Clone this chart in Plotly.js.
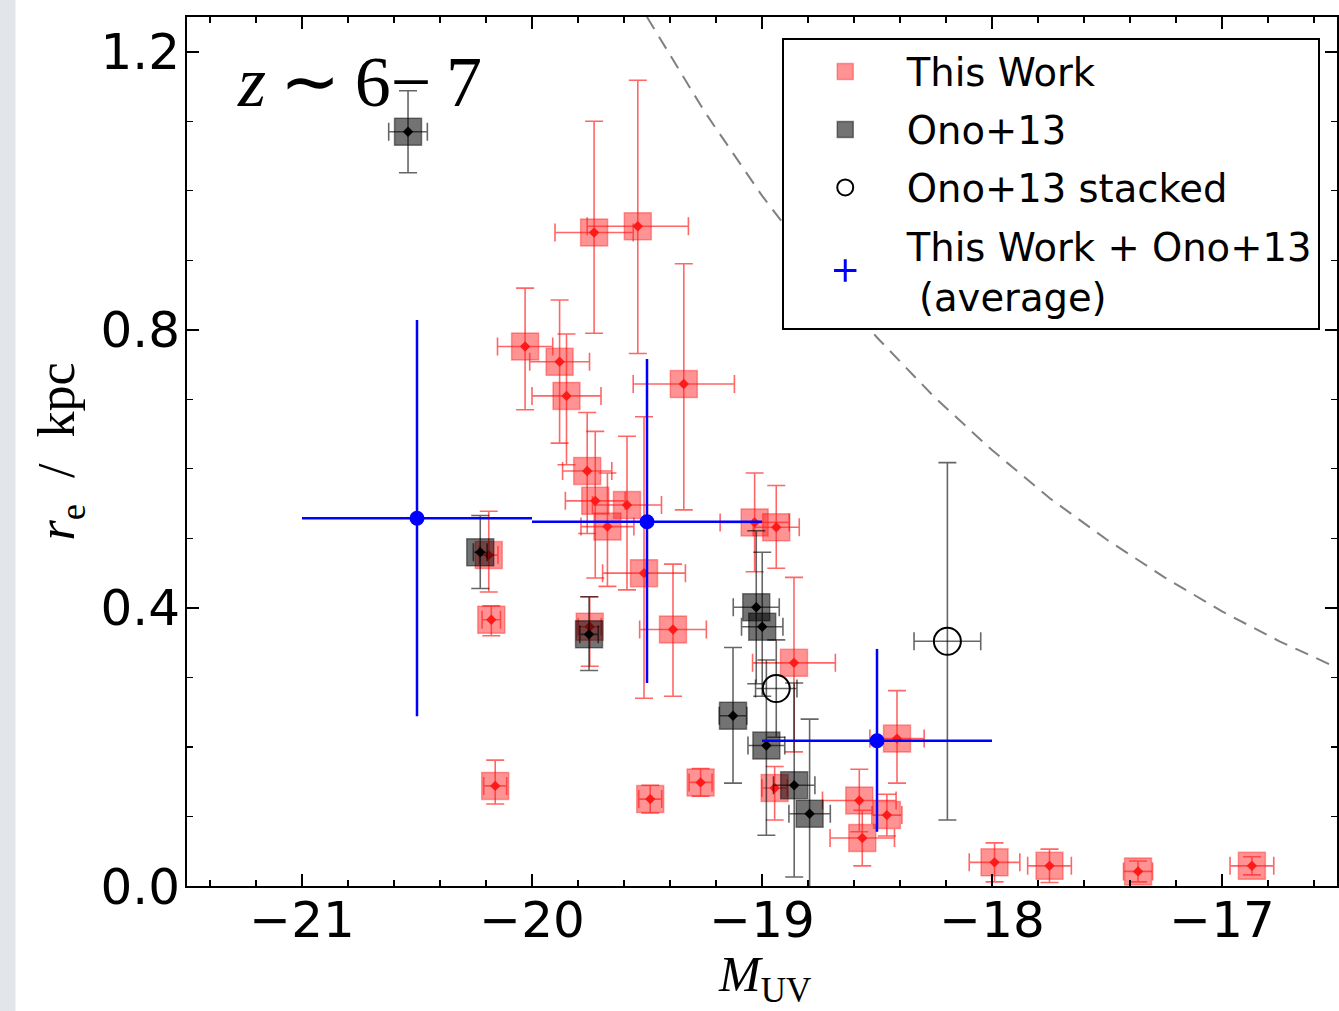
<!DOCTYPE html>
<html>
<head>
<meta charset="utf-8">
<script src="https://cdn.plot.ly/plotly-3.0.1.min.js"></script>
<style>
  html, body { margin: 0; padding: 0; }
  body { width: 1339px; height: 1011px; background: linear-gradient(to right, #e2e5e9 0px, #e2e5e9 15px, #ffffff 16px); }
  #chart { width: 1339px; height: 1011px; }
</style>
</head>
<body>
<div id="chart"></div>
<script>
// ---- This Work (red squares) ----
const workM      = [-19.73, -19.54, -20.03, -19.88, -19.85, -19.34, -19.76, -19.725, -19.587, -19.672, -19.032, -18.938, -19.513, -20.188, -20.177, -19.749, -19.387, -18.861, -18.413, -20.160, -19.486, -19.267, -18.945, -18.577, -18.457, -18.564, -17.989, -17.750, -17.365, -16.870];
const workRe     = [0.940, 0.949, 0.776, 0.754, 0.705, 0.722, 0.597, 0.554, 0.548, 0.517, 0.523, 0.516, 0.450, 0.476, 0.383, 0.373, 0.369, 0.321, 0.212, 0.144, 0.125, 0.149, 0.141, 0.123, 0.102, 0.069, 0.034, 0.029, 0.021, 0.029];
const workMErr   = [0.17, 0.22, 0.12, 0.13, 0.15, 0.22, 0.107, 0.13, 0.15, 0.115, 0.15, 0.10, 0.18, 0.04, 0.04, 0.05, 0.145, 0.18, 0.118, 0.05, 0.05, 0.05, 0.055, 0.16, 0.065, 0.14, 0.11, 0.095, 0.063, 0.095];
const workReUp   = [0.160, 0.210, 0.084, 0.089, 0.089, 0.173, 0.084, 0.100, 0.099, 0.077, 0.071, 0.060, 0.225, 0.063, 0.020, 0.043, 0.094, 0.123, 0.069, 0.037, 0.020, 0.020, 0.031, 0.045, 0.030, 0.040, 0.028, 0.024, 0.015, 0.013];
const workReDown = [0.145, 0.183, 0.091, 0.117, 0.099, 0.181, 0.090, 0.111, 0.122, 0.086, 0.071, 0.059, 0.180, 0.053, 0.023, 0.057, 0.096, 0.128, 0.064, 0.026, 0.020, 0.020, 0.046, 0.045, 0.030, 0.040, 0.028, 0.024, 0.015, 0.013];

// ---- Ono+13 (grey squares) ----
const onoM      = [-20.539, -20.225, -19.752, -19.025, -18.999, -19.126, -18.981, -18.860, -18.793];
const onoRe     = [1.085, 0.480, 0.362, 0.401, 0.373, 0.245, 0.202, 0.145, 0.104];
const onoMErr   = [0.084, 0.03, 0.04, 0.10, 0.09, 0.06, 0.08, 0.09, 0.09];
const onoReUp   = [0.059, 0.053, 0.054, 0.110, 0.107, 0.098, 0.123, 0.147, 0.136];
const onoReDown = [0.059, 0.052, 0.052, 0.110, 0.100, 0.097, 0.129, 0.132, 0.140];

// ---- Ono+13 stacked (open circles) ----
const stackM    = [-18.938, -18.194];
const stackRe   = [0.284, 0.352];
const stackMErr = [0.09, 0.145];
const stackReErr = [0.07, 0.257];

// ---- This Work + Ono+13 (average) ----
const avgM      = [-20.50, -19.50, -18.50];
const avgRe     = [0.529, 0.524, 0.209];
const avgMErr   = [0.5, 0.5, 0.5];
const avgReUp   = [0.285, 0.234, 0.132];
const avgReDown = [0.285, 0.232, 0.131];

// ---- dashed limit curve ----
const limitM  = [-19.5, -19.25, -19.0, -18.75, -18.5, -18.25, -18.0, -17.75, -17.5, -17.25, -17.0, -16.75, -16.5];
const limitRe = [1.25, 1.114, 0.993, 0.885, 0.789, 0.703, 0.627, 0.558, 0.498, 0.444, 0.395, 0.352, 0.314];

// ---- labels ----
const legendNames = ['This Work', 'Ono+13', 'Ono+13 stacked', 'This Work + Ono+13<br> (average)'];
const xTicks = [-21, -20, -19, -18, -17];
const yTicks = [0.0, 0.4, 0.8, 1.2];
const xTitle = '<i>M</i><sub>UV</sub>';
const yTitle = '<i>r</i><sub>e</sub>  /  kpc';
const panelLabel = '<i>z</i>\u2009\u223C\u20096\u2212\u20097';

const redErr = 'rgba(255,0,0,0.6)';
const blkErr = 'rgba(0,0,0,0.6)';

const traces = [
  { // dashed curve
    x: limitM, y: limitRe, mode: 'lines', showlegend: false, hoverinfo: 'skip',
    line: { color: '#808080', width: 2, dash: '14px,9px' }
  },
  { // red squares
    x: workM, y: workRe, mode: 'markers', name: legendNames[0], legendgroup: 'g1',
    marker: { symbol: 'square', size: 27, color: 'rgba(255,40,40,0.5)', line: { color: 'rgba(255,0,0,0.35)', width: 1.5 } },
    error_x: { type: 'data', array: workMErr, color: redErr, thickness: 1.6, width: 9 },
    error_y: { type: 'data', symmetric: false, array: workReUp, arrayminus: workReDown, color: redErr, thickness: 1.6, width: 9 }
  },
  { // red centers
    x: workM, y: workRe, mode: 'markers', showlegend: false, hoverinfo: 'skip',
    marker: { symbol: 'diamond', size: 8, color: '#ff1a1a' }
  },
  { // grey squares
    x: onoM, y: onoRe, mode: 'markers', name: legendNames[1], legendgroup: 'g2',
    marker: { symbol: 'square', size: 27, color: 'rgba(0,0,0,0.55)', line: { color: 'rgba(0,0,0,0.45)', width: 1.5 } },
    error_x: { type: 'data', array: onoMErr, color: blkErr, thickness: 1.6, width: 9 },
    error_y: { type: 'data', symmetric: false, array: onoReUp, arrayminus: onoReDown, color: blkErr, thickness: 1.6, width: 9 }
  },
  { // grey centers
    x: onoM, y: onoRe, mode: 'markers', showlegend: false, hoverinfo: 'skip',
    marker: { symbol: 'diamond', size: 8, color: '#000000' }
  },
  { // stacked circles
    x: stackM, y: stackRe, mode: 'markers', name: legendNames[2], legendgroup: 'g3',
    marker: { symbol: 'circle-open', size: 27, color: '#000000', line: { color: '#000000', width: 2 } },
    error_x: { type: 'data', array: stackMErr, color: blkErr, thickness: 1.6, width: 9 },
    error_y: { type: 'data', array: stackReErr, color: blkErr, thickness: 1.6, width: 9 }
  },
  { // average
    x: avgM, y: avgRe, mode: 'markers', showlegend: false,
    marker: { symbol: 'circle', size: 15, color: '#0000ff' },
    error_x: { type: 'data', array: avgMErr, color: '#0000ff', thickness: 2.5, width: 0 },
    error_y: { type: 'data', symmetric: false, array: avgReUp, arrayminus: avgReDown, color: '#0000ff', thickness: 2.5, width: 0 }
  },
  { // legend entry for average
    x: [null], y: [null], mode: 'markers', name: legendNames[3], legendgroup: 'g4',
    marker: { symbol: 'cross-thin-open', size: 16, color: '#0000ff', line: { color: '#0000ff', width: 3 } }
  }
];

const tickFont = { family: 'DejaVu Sans', size: 50, color: '#000' };

const layout = {
  width: 1339, height: 1011,
  margin: { l: 187, r: 2, t: 17, b: 125 },
  paper_bgcolor: 'rgba(0,0,0,0)',
  plot_bgcolor: '#ffffff',
  showlegend: true,
  legend: {
    x: 0.985, xanchor: 'right', y: 0.976, yanchor: 'top',
    bgcolor: '#ffffff', bordercolor: '#000000', borderwidth: 2,
    font: { family: 'DejaVu Sans', size: 38.5, color: '#000' },
    traceorder: 'grouped', tracegroupgap: 5, itemwidth: 113
  },
  xaxis: {
    range: [-21.5, -16.5], tickmode: 'array', tickvals: xTicks, ticktext: xTicks.map(v => '\u2212' + Math.abs(v)),
    ticks: 'inside', ticklen: 12, tickwidth: 1.5, tickcolor: '#000',
    minor: { dtick: 0.2, tick0: -21, ticks: 'inside', ticklen: 6, tickwidth: 1.2, tickcolor: '#000', showgrid: false },
    showline: true, linecolor: '#000', linewidth: 2, mirror: 'allticks',
    showgrid: false, zeroline: false, tickfont: tickFont, ticklabelstandoff: -11
  },
  yaxis: {
    range: [0, 1.25], tickmode: 'array', tickvals: yTicks, ticktext: yTicks.map(v => v.toFixed(1)),
    ticks: 'inside', ticklen: 12, tickwidth: 1.5, tickcolor: '#000',
    minor: { dtick: 0.1, tick0: 0, ticks: 'inside', ticklen: 6, tickwidth: 1.2, tickcolor: '#000', showgrid: false },
    showline: true, linecolor: '#000', linewidth: 2, mirror: 'allticks',
    showgrid: false, zeroline: false, tickfont: tickFont, ticklabelstandoff: -5,
    title: { text: yTitle, font: { family: 'Liberation Serif', size: 52, color: '#000' }, standoff: 9 }
  },
  annotations: [
    {
      xref: 'paper', yref: 'paper', x: 0.042, y: 0.925, xanchor: 'left', yanchor: 'middle',
      text: panelLabel, showarrow: false,
      font: { family: 'Liberation Serif', size: 72, color: '#000' }
    },
    {
      xref: 'paper', yref: 'paper', x: 0.502, y: -0.106, xanchor: 'center', yanchor: 'middle',
      text: xTitle, showarrow: false,
      font: { family: 'Liberation Serif', size: 50, color: '#000' }
    }
  ]
};

Plotly.newPlot('chart', traces, layout, { displayModeBar: false, staticPlot: true });
</script>
</body>
</html>
